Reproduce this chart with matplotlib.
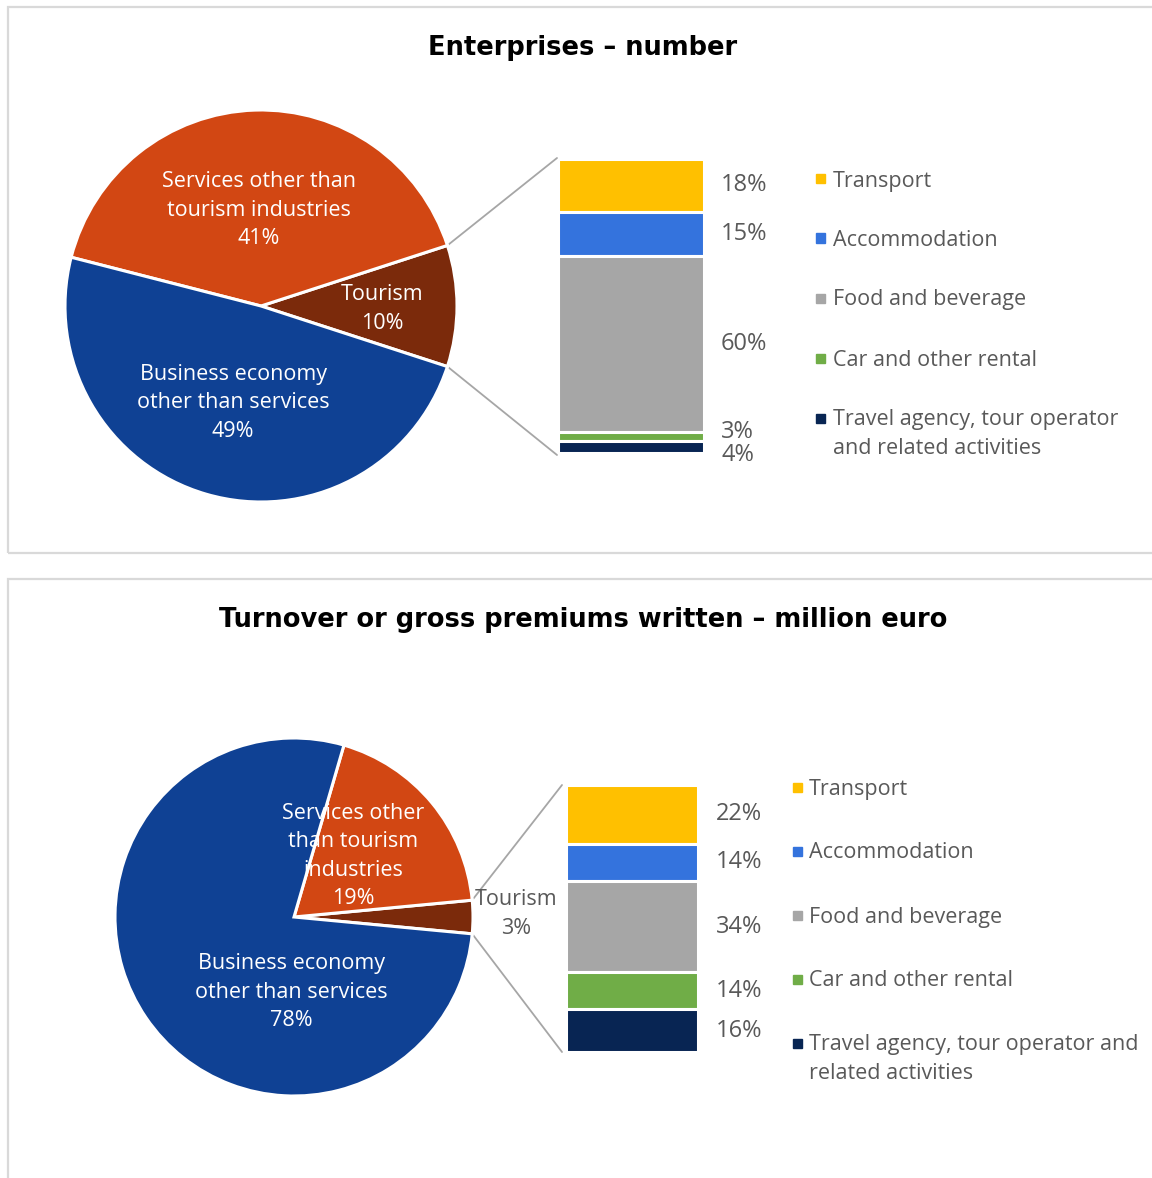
import matplotlib
matplotlib.use("Agg")
import matplotlib.pyplot as plt
from matplotlib.patches import Rectangle, ConnectionPatch
import numpy as np

# ---- data -------------------------------------------------------------
pie_parts = ["Tourism", "Services other than tourism industries",
             "Business economy other than services"]
enterprises_pie = [10, 41, 49]
turnover_pie = [3, 19, 78]

breakdown_categories = ["Transport", "Accommodation", "Food and beverage",
                        "Car and other rental",
                        "Travel agency, tour operator and related activities"]
enterprises_breakdown = [18, 15, 60, 3, 4]
turnover_breakdown = [22, 14, 34, 14, 16]

titles = ["Enterprises \u2013 number",
          "Turnover or gross premiums written \u2013 million euro"]

# ---- styling ----------------------------------------------------------
pie_colors = ["#7B2A0B", "#D24713", "#0F4194"]
bar_colors = ["#FFC000", "#3473DD", "#A6A6A6", "#70AD47", "#082553"]
text_gray = "#595959"
FONT = "Open Sans"
plt.rcParams["font.family"] = [FONT, "DejaVu Sans"]
BODY = 15.5
LS = 1.47
TEXT_DROP = 2  # small downward nudge so glyphs sit on the intended line

W, H, DPI = 1152, 1178, 100
fig = plt.figure(figsize=(W / DPI, H / DPI), dpi=DPI)


def fx(px):
    return px / W


def fy(py):
    return 1 - py / H


def add_axes_px(x0, y0, x1, y1):
    return fig.add_axes([fx(x0), fy(y1), fx(x1) - fx(x0), fy(y0) - fy(y1)])


# panel frames
for (x0, y0, x1, y1) in [(8, 7, 1170, 553), (8, 579, 1170, 1200)]:
    fig.add_artist(Rectangle((fx(x0), fy(y1)), fx(x1) - fx(x0), fy(y0) - fy(y1),
                             transform=fig.transFigure, fill=False,
                             edgecolor="#D9D9D9", linewidth=1.6))


def draw_panel(title, title_y, pie_vals, pie_box, pie_label_specs,
               bar_vals, bar_box, label_dx, label_shift, legend_specs,
               legend_names, line_ends):
    fig.text(0.506, fy(title_y), title, ha="center", va="center",
             fontsize=18.5, fontweight="bold", color="black",
             family="DejaVu Sans")

    # pie with the tourism wedge centred on the right-hand side
    ax_p = add_axes_px(*pie_box)
    start = -pie_vals[0] * 3.6 / 2
    ax_p.pie(pie_vals, colors=pie_colors, startangle=start, radius=1,
             counterclock=True,
             wedgeprops=dict(edgecolor="white", linewidth=2.2))
    ax_p.set_xlim(-1, 1)
    ax_p.set_ylim(-1, 1)
    ax_p.set_aspect("equal")
    ax_p.axis("off")

    for text_lines, val, (px, py), col in pie_label_specs:
        fig.text(fx(px), fy(py + TEXT_DROP), f"{text_lines}\n{val}%",
                 ha="center", va="center", fontsize=BODY, color=col,
                 linespacing=LS)

    # stacked breakdown bar, first category on top
    ax_b = add_axes_px(*bar_box)
    tops = 100 - np.concatenate([[0], np.cumsum(bar_vals)[:-1]])
    for v, t, c, sh in zip(bar_vals, tops, bar_colors, label_shift):
        ax_b.bar(0, v, bottom=t - v, width=1, color=c, edgecolor="white",
                 linewidth=2.2)
        ax_b.annotate(f"{v}%", xy=(1, t - v / 2),
                      xycoords=("axes fraction", "data"),
                      xytext=(label_dx, sh), textcoords="offset pixels",
                      ha="left", va="center", fontsize=17, color=text_gray)
    ax_b.set_xlim(-0.5, 0.5)
    ax_b.set_ylim(0, 100)
    ax_b.axis("off")

    # connector lines from the tourism wedge to the bar
    half = np.deg2rad(pie_vals[0] * 3.6 / 2)
    for sign, (ex, ey) in zip([1, -1], line_ends):
        con = ConnectionPatch(xyA=(np.cos(half), sign * np.sin(half)),
                              coordsA=ax_p.transData,
                              xyB=(fx(ex), fy(ey)), coordsB=fig.transFigure,
                              color="#A6A6A6", linewidth=1.3, zorder=0)
        fig.add_artist(con)

    # legend: square marker aligned with the first line of each entry
    mx, tx, ys = legend_specs
    for name, c, y in zip(legend_names, bar_colors, ys):
        fig.add_artist(Rectangle((fx(mx - 4.5), fy(y + 4.5)), 9 / W, 9 / H,
                                 transform=fig.transFigure, color=c))
        n_lines = name.count("\n") + 1
        fig.text(fx(tx), fy(y + TEXT_DROP + 14 * (n_lines - 1)), name,
                 ha="left", va="center", fontsize=BODY, color=text_gray,
                 linespacing=LS)


draw_panel(
    titles[0], 48, enterprises_pie, (65, 110, 457, 502),
    [("Tourism", enterprises_pie[0], (382, 307), "white"),
     ("Services other than\ntourism industries", enterprises_pie[1], (259, 208), "white"),
     ("Business economy\nother than services", enterprises_pie[2], (233, 401), "white")],
    enterprises_breakdown, (558, 159, 704, 453), 17, [0, 0, 0, 4.5, -8],
    (820, 833, [179, 238, 298, 358, 418]),
    ["Transport", "Accommodation", "Food and beverage", "Car and other rental",
     "Travel agency, tour operator\nand related activities"],
    [(557, 158), (557, 455)])

draw_panel(
    titles[1], 620, turnover_pie, (115, 738, 473, 1096),
    [("Tourism", turnover_pie[0], (516, 912), text_gray),
     ("Services other\nthan tourism\nindustries", turnover_pie[1], (353, 854), "white"),
     ("Business economy\nother than services", turnover_pie[2], (291, 990), "white")],
    turnover_breakdown, (566, 785, 698, 1052), 18, [0, 0, 0, 0, 0],
    (797, 809, [787, 851, 915, 979, 1043]),
    ["Transport", "Accommodation", "Food and beverage", "Car and other rental",
     "Travel agency, tour operator and\nrelated activities"],
    [(562, 785), (562, 1052)])

fig.savefig("out.png", dpi=DPI, facecolor="white")
